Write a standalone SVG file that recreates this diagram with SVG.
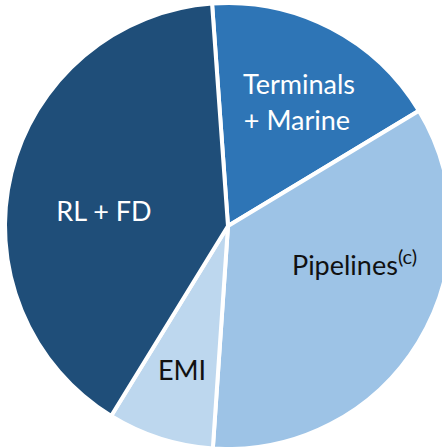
<svg xmlns="http://www.w3.org/2000/svg" width="442" height="447" viewBox="0 0 442 447">
  <style>
    .slice { stroke: #ffffff; stroke-width: 4; stroke-linejoin: round; }
    .lbl { font-family: Lato, "Open Sans", "Liberation Sans", sans-serif; font-size: 27px; text-anchor: middle; }
    .lbl.left { text-anchor: start; }
    .light { fill: #ffffff; }
    .dark { fill: #111111; }
  </style>
  <rect width="442" height="447" fill="#ffffff"/>
  <!-- pie centred at (228,226), radius 223 -->
  <g id="terminals-marine">
    <path class="slice" fill="#2E75B6" d="M228,226 L212.06,3.57 A223,223 0 0 1 418.96,110.82 Z"/>
    <text class="lbl light" x="299" y="94">Terminals</text>
    <text class="lbl light" x="297" y="130">+ Marine</text>
  </g>
  <g id="pipelines">
    <path class="slice" fill="#9DC3E6" d="M228,226 L418.96,110.82 A223,223 0 0 1 212.83,448.48 Z"/>
    <text class="lbl left dark" x="292" y="274.5">Pipelines<tspan font-size="20" dy="-11">(c)</tspan></text>
  </g>
  <g id="emi">
    <path class="slice" fill="#BDD7EE" d="M228,226 L212.83,448.48 A223,223 0 0 1 111.15,415.93 Z"/>
    <text class="lbl dark" x="182" y="380">EMI</text>
  </g>
  <g id="rl-fd">
    <path class="slice" fill="#1F4E79" d="M228,226 L111.15,415.93 A223,223 0 0 1 212.06,3.57 Z"/>
    <text class="lbl light" x="104" y="221">RL + FD</text>
  </g>
</svg>
